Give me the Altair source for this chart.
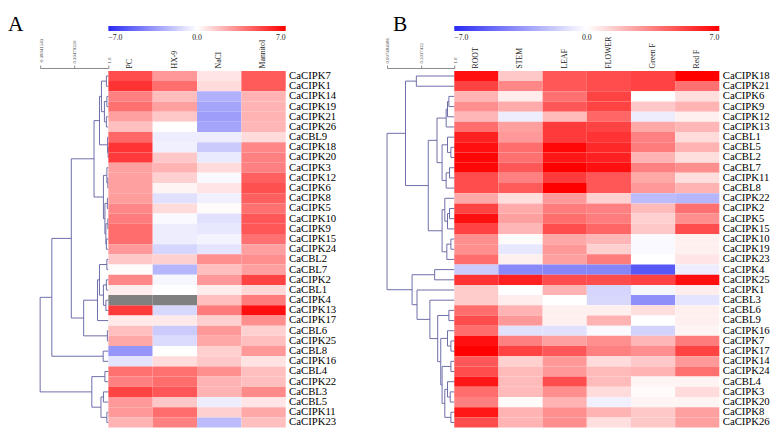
import altair as alt
import pandas as pd

SERIF = "Liberation Serif"

# ---------------- Panel A data ----------------
genesA = ["CaCIPK7", "CaCIPK1", "CaCIPK14", "CaCIPK19", "CaCIPK21", "CaCIPK26", "CaCBL9",
          "CaCIPK18", "CaCIPK20", "CaCIPK3", "CaCIPK12", "CaCIPK6", "CaCIPK8", "CaCIPK5",
          "CaCIPK10", "CaCIPK9", "CaCIPK15", "CaCIPK24", "CaCBL2", "CaCBL7", "CaCIPK2",
          "CaCBL1", "CaCIPK4", "CaCIPK13", "CaCIPK17", "CaCBL6", "CaCIPK25", "CaCBL8",
          "CaCIPK16", "CaCBL4", "CaCIPK22", "CaCBL3", "CaCBL5", "CaCIPK11", "CaCIPK23"]
condsA = ["PC", "HX-9", "NaCl", "Mannitol"]
pcA = [4.9, 5.6, 3.5, 3.9, 2.6, 1.75, 4.2, 5.6, 5.4, 2.6, 2.6, 2.6, 2.7, 3.3, 3.6, 4.0, 4.0, 2.8,
       1.5, 0.1, 3.3, 0.5, None, 5.4, 0.6, 1.75, 2.4, -3.5, -0.9, 3.9, 3.5, 5.2, 2.8, 2.8, 2.1]
hxA = [2.8, 4.0, 1.8, 2.6, 1.5, 0.05, -0.6, -0.5, 1.5, 2.1, 1.3, 0.3, -1.0, 1.0, -0.2, -0.6, -0.6, -1.4,
       1.3, -2.4, -0.3, 0.0, None, -1.3, 0.6, -1.75, -1.2, 0.0, 1.0, 3.9, 4.0, 4.6, 1.5, 4.0, 3.5]
naclA = [0.7, 1.0, -2.6, -3.0, -3.2, -3.0, -0.6, -1.75, -0.7, 1.0, -0.2, 0.7, -0.5, 0.1, -1.0, -0.8, -0.4, -0.9,
         3.1, 1.75, 2.8, 0.5, 1.75, 3.6, 1.3, 2.8, 2.4, 1.3, 1.5, 3.1, 2.1, 2.1, -0.6, 1.3, -2.2]
manA = [4.5, 4.5, 2.1, 2.1, 2.1, 2.0, 1.0, 3.3, 3.5, 3.5, 4.4, 4.8, 4.4, 3.9, 4.6, 4.6, 3.9, 2.6,
        3.1, 2.6, 5.2, 1.1, 3.6, 6.6, 3.1, 1.3, 1.75, 2.8, 0.8, 1.75, 1.75, 3.2, 0.7, 2.4, 1.75]
valsA = [pcA, hxA, naclA, manA]

# dendrogram A: (left, right, merge level); leaves are row numbers
A0_8 = (((0, 1, 0.96), ((2, 3, 0.97), (4, 5, 0.96), 0.92), 0.86), (6, (7, 8, 0.995), 0.985), 0.82)
A9_17 = ((9, (10, 11, 0.99), 0.97), ((12, 13, 0.98), ((14, 15, 0.99), (16, 17, 0.96), 0.95), 0.93), 0.90)
A0_17 = (A0_8, A9_17, 0.71)
A18_24 = (((18, 19, 0.97), ((20, 21, 0.96), (22, 23, 0.95), 0.90), 0.82), 24, 0.78)
A18_26 = (A18_24, (25, 26, 0.98), 0.50)
A0_26 = (A0_17, A18_26, 0.25)
A_top = (A0_26, (27, 28, 0.895), -0.144)
A_bot = ((29, 30, 0.93), ((31, 32, 0.90), (33, 34, 0.97), 0.85), 0.665)
treeA = (A_top, A_bot, -0.38041543)
scaleA_ticks = [-0.38041543, 0.3047922, 1.0]
scaleA_labels = ["-0.38041543", "0.30479220", "1.0"]

# ---------------- Panel B data ----------------
genesB = ["CaCIPK18", "CaCIPK21", "CaCIPK6", "CaCIPK9", "CaCIPK12", "CaCIPK13", "CaCBL1",
          "CaCBL5", "CaCBL2", "CaCBL7", "CaCIPK11", "CaCBL8", "CaCIPK22", "CaCIPK2",
          "CaCIPK5", "CaCIPK15", "CaCIPK10", "CaCIPK19", "CaCIPK23", "CaCIPK4", "CaCIPK25",
          "CaCIPK1", "CaCBL3", "CaCBL6", "CaCBL9", "CaCIPK16", "CaCIPK7", "CaCIPK17",
          "CaCIPK14", "CaCIPK24", "CaCBL4", "CaCIPK3", "CaCIPK20", "CaCIPK8", "CaCIPK26"]
condsB = ["ROOT", "STEM", "LEAF", "FLOWER", "Green F", "Red F"]
rootB = [6.6, 5.2, 2.1, 3.1, 2.0, 4.0, 6.1, 6.6, 6.8, 6.8, 4.9, 4.9, 2.4, 5.2, 6.6, 5.2, 3.1, 3.1,
         4.0, -1.75, 5.6, 1.4, 1.4, 4.0, 4.9, 4.0, 6.6, 7.0, 4.6, 4.9, 6.4, 4.0, 3.5, 6.4, 4.9]
stemB = [1.5, 3.3, 0.5, 2.3, -0.6, 2.6, 2.8, 4.0, 3.9, 4.6, 3.5, 4.5, 0.9, 2.3, 2.6, 2.0, 0.1, -0.8,
         0.4, -3.9, 6.1, 0.0, 0.5, 2.1, 2.8, -1.0, 3.5, 5.2, 1.3, 1.9, 1.9, 1.9, 0.1, 2.1, 2.1]
leafB = [4.6, 4.6, 3.9, 4.6, 1.9, 5.4, 5.4, 6.8, 6.4, 7.0, 5.4, 7.0, 2.8, 3.6, 4.0, 4.9, 2.4, 2.8,
         2.6, -4.0, 4.9, 2.1, 0.0, 0.4, 0.4, -1.0, 2.6, 4.6, 2.8, 2.8, 4.9, 3.1, 2.1, 3.1, 3.1]
flowerB = [4.9, 4.9, 5.2, 5.2, 4.2, 5.2, 5.6, 5.9, 6.1, 6.6, 4.6, 4.6, 1.3, 3.5, 3.6, 4.2, 2.0, 1.3,
           3.6, -4.0, 4.9, -1.4, -1.3, 0.4, 2.1, -0.2, 3.1, 3.5, 1.0, 1.9, 1.9, 1.0, -0.5, 2.1, 0.9]
greenB = [5.2, 5.2, 0.0, 1.5, -0.6, 2.4, 3.5, 3.6, 2.1, 3.5, 2.4, 2.8, -2.2, 1.9, 1.3, 1.5, -0.2, -0.2,
          0.0, -5.5, 5.2, -0.3, -3.7, 0.9, 0.0, -1.5, 2.0, 3.1, 1.5, 2.1, 0.3, 0.1, 0.3, 1.5, 1.5]
redB = [7.0, 3.9, 0.9, 2.1, 0.4, 2.0, 1.0, 2.1, 0.9, 3.1, 0.9, 2.1, -2.4, 3.9, 3.1, 4.9, 0.4, 0.4,
        0.7, -0.6, 6.6, 0.5, -0.9, 0.4, 0.4, 0.3, 3.6, 5.2, 2.8, 3.9, 0.3, 1.0, 0.3, 2.6, 2.6]
valsB = [rootB, stemB, leafB, flowerB, greenB, redB]

B2_5 = (((2, 3, 0.92), 4, 0.90), 5, 0.88)
B6_11 = ((6, (7, 8, 0.95), 0.90), ((9, 10, 0.93), 11, 0.88), 0.82)
B2_11 = (B2_5, B6_11, 0.745)
B12_18 = ((12, ((13, 14, 0.93), 15, 0.90), 0.86), ((16, 17, 0.95), 18, 0.89), 0.82)
B2_18 = (B2_11, B12_18, 0.616)
B_top = ((0, 1, 0.44), B2_18, 0.28)
B25_34 = ((25, (26, 27, 0.95), 0.90),
          ((28, 29, 0.95), ((30, (31, 32, 0.94), 0.90), (33, 34, 0.95), 0.86), 0.82), 0.80)
B23_34 = ((23, 24, 0.92), B25_34, 0.755)
B_bot = ((19, 20, 0.71), (21, (22, B23_34, 0.64), 0.45), 0.377)
treeB = (B_top, B_bot, 0.00748439)
scaleB_ticks = [0.00748439, 0.5037422, 1.0]
scaleB_labels = ["0.007484386", "0.5037422", "1.0"]


def tree_segments(tree):
    segs = []

    def rec(node):
        if isinstance(node, int):
            return float(node), 1.0
        left, right, lev = node
        yl, cl = rec(left)
        yr, cr = rec(right)
        segs.append({"x": lev, "x2": lev, "y": yl, "y2": yr})
        segs.append({"x": lev, "x2": cl, "y": yl, "y2": yl})
        segs.append({"x": lev, "x2": cr, "y": yr, "y2": yr})
        return (yl + yr) / 2.0, lev

    rec(tree)
    return pd.DataFrame(segs)


def long_table(genes, conds, vals):
    recs = []
    for ci, c in enumerate(conds):
        for gi, g in enumerate(genes):
            recs.append({"gene": g, "cond": c, "v": vals[ci][gi]})
    return pd.DataFrame(recs)


color_scale = alt.Scale(domain=[-7, 0, 7], range=["#2b2bf5", "#ffffff", "#ff0000"], interpolate="rgb")
LINE = "#6b6ba8"
H = 366


def panel(title, genes, conds, vals, tree, ticks, labels, dend_w, heat_w, title_dx):
    n = len(genes)
    seg = tree_segments(tree)
    tick_expr = " : ".join(
        [f"abs(datum.value - ({t})) < 1e-6 ? '{l}'" for t, l in zip(ticks, labels)] + ["''"])
    dendro = alt.Chart(seg).mark_rule(color=LINE, strokeWidth=1).encode(
        x=alt.X("x:Q", scale=alt.Scale(domain=[ticks[0], 1.0], range=[0, dend_w], nice=False, zero=False),
                axis=alt.Axis(orient="top", values=ticks, labelExpr=tick_expr, labelAngle=-90,
                              labelFontSize=5, labelFont=SERIF, labelColor="#444", grid=False,
                              title=None, offset=3, domainColor="#888", tickColor="#888",
                              tickSize=3, labelPadding=2)),
        x2="x2:Q",
        y=alt.Y("y:Q", scale=alt.Scale(domain=[-0.5, n - 0.5], reverse=True, nice=False, zero=False),
                axis=None),
        y2="y2:Q",
    )
    df = long_table(genes, conds, vals)
    xenc = alt.X("cond:N", sort=conds,
                 scale=alt.Scale(range=[dend_w, dend_w + heat_w], paddingInner=0, paddingOuter=0),
                 axis=alt.Axis(orient="top", labelAngle=-90, ticks=False, domain=False, title=None,
                               labelFont=SERIF, labelFontSize=8, labelColor="#222", labelPadding=3))
    yenc = alt.Y("gene:N", sort=genes, scale=alt.Scale(paddingInner=0, paddingOuter=0),
                 axis=alt.Axis(orient="right", ticks=False, domain=False, title=None,
                               labelFont=SERIF, labelFontSize=11, labelColor="#000",
                               labelPadding=3))
    heat = alt.Chart(df).transform_filter("isValid(datum.v)").mark_rect().encode(
        x=xenc, y=yenc,
        color=alt.Color("v:Q", scale=color_scale,
                        legend=alt.Legend(orient="none", legendX=dend_w, legendY=-46,
                                          direction="horizontal", gradientLength=heat_w,
                                          gradientThickness=5, title=None, values=[-7, 0, 7],
                                          format=".1f", labelFont=SERIF, labelFontSize=8,
                                          labelColor="#222", gradientStrokeWidth=0, padding=0,
                                          labelOffset=3)))
    miss = alt.Chart(df).transform_filter("!isValid(datum.v)").mark_rect(color="#808080").encode(
        x=xenc, y=yenc)
    heat_all = alt.layer(heat, miss)
    return alt.layer(dendro, heat_all).resolve_scale(x="independent", y="independent").properties(
        width=dend_w + heat_w, height=H,
        title=alt.TitleParams(title, anchor="start", frame="group", dx=title_dx, fontSize=22,
                              font=SERIF, fontWeight="normal", color="#000", offset=-10))


pA = panel("A", genesA, condsA, valsA, treeA, scaleA_ticks, scaleA_labels, 70, 182, -33)
pB = panel("B", genesB, condsB, valsB, treeB, scaleB_ticks, scaleB_labels, 69, 272, 6)

chart = alt.hconcat(pA, pB, spacing=49).resolve_scale(color="independent").configure_view(
    strokeWidth=0).properties(padding={"left": 0, "top": 0, "right": 0, "bottom": 0})

chart.save("out.html", embed_options={"renderer": "svg", "actions": False})
